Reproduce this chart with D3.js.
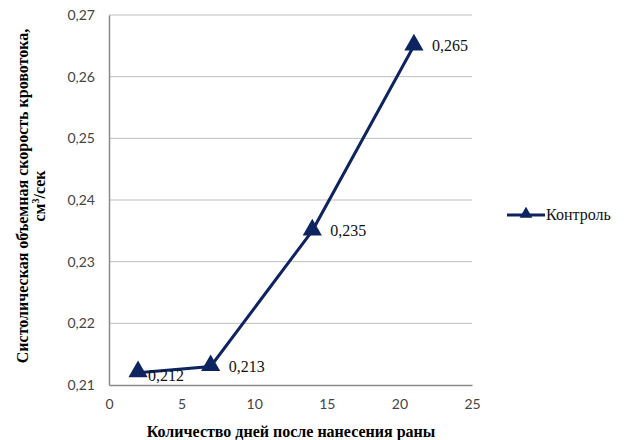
<!DOCTYPE html>
<html>
<head>
<meta charset="utf-8">
<script src="https://cdn.jsdelivr.net/npm/d3@7"></script>
<style>
  body { margin: 0; background: #fff; }
  svg { display: block; }
  .serif { font-family: "Liberation Serif", "Times New Roman", serif; }
  .tick text { font-family: Lato, "Open Sans", sans-serif; font-size: 14px; fill: #444; }
</style>
</head>
<body>
<svg id="chart" width="634" height="440">
  <text class="serif" x="291" y="437" text-anchor="middle" font-size="16" font-weight="bold">Количество дней после нанесения раны</text>
  <text class="serif" transform="translate(28,196) rotate(-90)" text-anchor="middle" font-size="16" font-weight="bold"><tspan x="0" dy="0">Систолическая объемная скорость кровотока,</tspan><tspan x="0" dy="17">см<tspan font-size="10" dy="-6">3</tspan><tspan dy="6">/сек</tspan></tspan></text>
</svg>
<script>
// данные
const days = [2, 7, 14, 21];
const control = [0.212, 0.213, 0.235, 0.265];
const pointLabels = ["0,212", "0,213", "0,235", "0,265"];
const xTicks = [0, 5, 10, 15, 20, 25];
const yTicks = [0.21, 0.22, 0.23, 0.24, 0.25, 0.26, 0.27];
const seriesName = "Контроль";

const m = { left: 109, right: 472, top: 15, bottom: 385 };
const navy = "#0d2461";

const svg = d3.select("#chart");

const x = d3.scaleLinear().domain([0, 25]).range([m.left, m.right]);
const y = d3.scaleLinear().domain([0.21, 0.27]).range([m.bottom, m.top]);
const fmt = d => d3.format(".2f")(d).replace(".", ",");

function draw() {
  // сетка
  svg.append("g").selectAll("line").data(yTicks.slice(1)).enter().append("line")
    .attr("x1", m.left).attr("x2", m.right)
    .attr("y1", d => y(d)).attr("y2", d => y(d))
    .attr("stroke", "#bdbdbd").attr("stroke-width", 1);

  // оси
  const yAxis = svg.append("g").attr("transform", `translate(${m.left},0)`)
    .call(d3.axisLeft(y).tickValues(yTicks).tickFormat(fmt).tickSize(0).tickPadding(14));
  yAxis.select(".domain").attr("stroke", "#8a8a8a").attr("stroke-width", 1.5);

  const xAxis = svg.append("g").attr("transform", `translate(0,${m.bottom})`)
    .call(d3.axisBottom(x).tickValues(xTicks).tickSize(0).tickPadding(14));
  xAxis.select(".domain").attr("stroke", "#8a8a8a").attr("stroke-width", 1.5);

  // линия
  const line = d3.line().x((d, i) => x(days[i])).y(d => y(d));
  svg.append("path").datum(control)
    .attr("d", line).attr("fill", "none")
    .attr("stroke", navy).attr("stroke-width", 3);

  svg.append("g").selectAll("path").data(control).enter().append("path")
    .attr("d", d3.symbol().type(d3.symbolTriangle).size(160))
    .attr("transform", (d, i) => `translate(${x(days[i])},${y(d) - 1})`)
    .attr("fill", navy);

  // подписи значений
  svg.append("g").selectAll("text").data(control).enter().append("text")
    .attr("class", "serif")
    .attr("x", (d, i) => x(days[i]) + (i === 0 ? 10 : 18))
    .attr("y", (d, i) => y(d) + (i === 0 ? 8 : 5))
    .attr("font-size", 16).attr("fill", "#111")
    .text((d, i) => pointLabels[i]);

  // легенда
  const lg = svg.append("g").attr("transform", "translate(507,215)");
  lg.append("line").attr("x1", 0).attr("x2", 38).attr("y1", 0).attr("y2", 0)
    .attr("stroke", navy).attr("stroke-width", 3);
  lg.append("path").attr("d", d3.symbol().type(d3.symbolTriangle).size(70))
    .attr("transform", "translate(19,-1)").attr("fill", navy);
  lg.append("text").attr("class", "serif").attr("x", 39).attr("y", 5)
    .attr("font-size", 16).attr("fill", "#111").text(seriesName);
}

draw();
</script>
</body>
</html>
